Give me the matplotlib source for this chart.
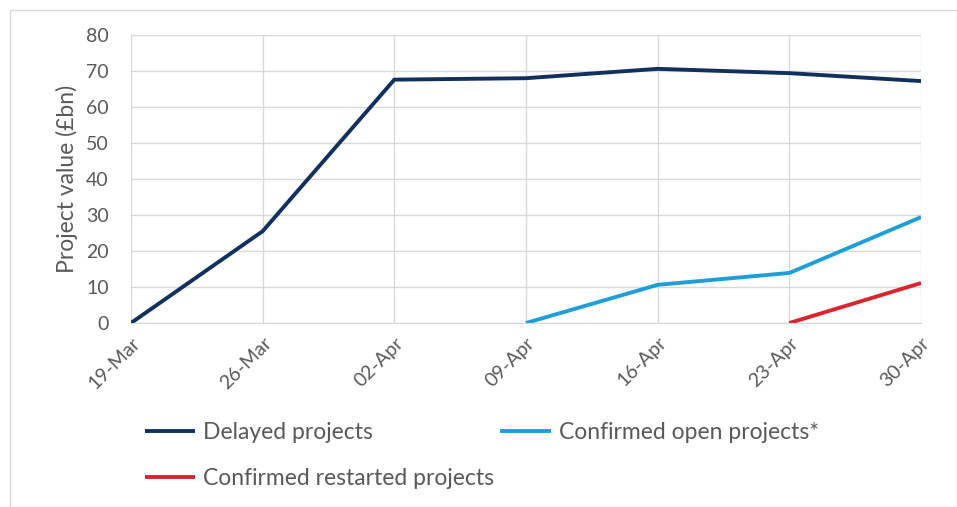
import matplotlib.pyplot as plt
from matplotlib.patches import Rectangle
import numpy as np

plt.rcParams['font.family'] = ['Lato', 'DejaVu Sans']

weeks = ['19-Mar', '26-Mar', '02-Apr', '09-Apr', '16-Apr', '23-Apr', '30-Apr']
delayed = [0, 25.5, 67.6, 68.0, 70.6, 69.4, 67.2]
confirmed_open = [np.nan, np.nan, np.nan, 0, 10.6, 13.9, 29.4]
restarted = [np.nan, np.nan, np.nan, np.nan, np.nan, 0, 11.1]

grey = '#595959'
fig = plt.figure(figsize=(9.57, 5.07), dpi=100)
fig.patches.append(Rectangle((10 / 957, 0), 947 / 957, 497 / 507, transform=fig.transFigure,
                             fill=False, edgecolor='#d9d9d9', linewidth=1))
ax = fig.add_axes([131 / 957, 1 - 323 / 507, 790 / 957, 288 / 507])

x = np.arange(len(weeks))
l1, = ax.plot(x, delayed, color='#12305e', lw=2.8, label='Delayed projects', solid_capstyle='butt')
l2, = ax.plot(x, confirmed_open, color='#1f9fd6', lw=2.8, label='Confirmed open projects*', solid_capstyle='butt')
l3, = ax.plot(x, restarted, color='#d7262e', lw=2.8, label='Confirmed restarted projects', solid_capstyle='butt')

ax.set_xlim(0, len(weeks) - 1)
ax.set_ylim(0, 80)
ax.set_yticks(range(0, 81, 10))
ax.set_xticks(x)
ax.set_xticklabels(weeks, rotation=45, ha='right', rotation_mode='anchor')
ax.grid(True, color='#d9d9d9', lw=1)
ax.set_axisbelow(True)
for s in ['top', 'right', 'left']:
    ax.spines[s].set_visible(False)
ax.spines['bottom'].set_color('#d9d9d9')
ax.tick_params(length=0, colors=grey, labelsize=14)
ax.tick_params(axis='y', pad=16)
ax.tick_params(axis='x', pad=8)
ax.set_ylabel('Project value (£bn)', color=grey, fontsize=16.5, labelpad=6)

# ncol=2 fills column-wise, so order gives row 1: delayed, open; row 2: restarted
fig.legend([l1, l3, l2], [l1.get_label(), l3.get_label(), l2.get_label()],
           ncol=2, loc='upper left', bbox_to_anchor=(145 / 957, 1 - 422 / 507),
           frameon=False, fontsize=16.5, labelcolor=grey, handlelength=2.2,
           handletextpad=0.35, columnspacing=0.25, labelspacing=1.1, borderpad=0,
           borderaxespad=0)

fig.savefig('out.png', dpi=100)
